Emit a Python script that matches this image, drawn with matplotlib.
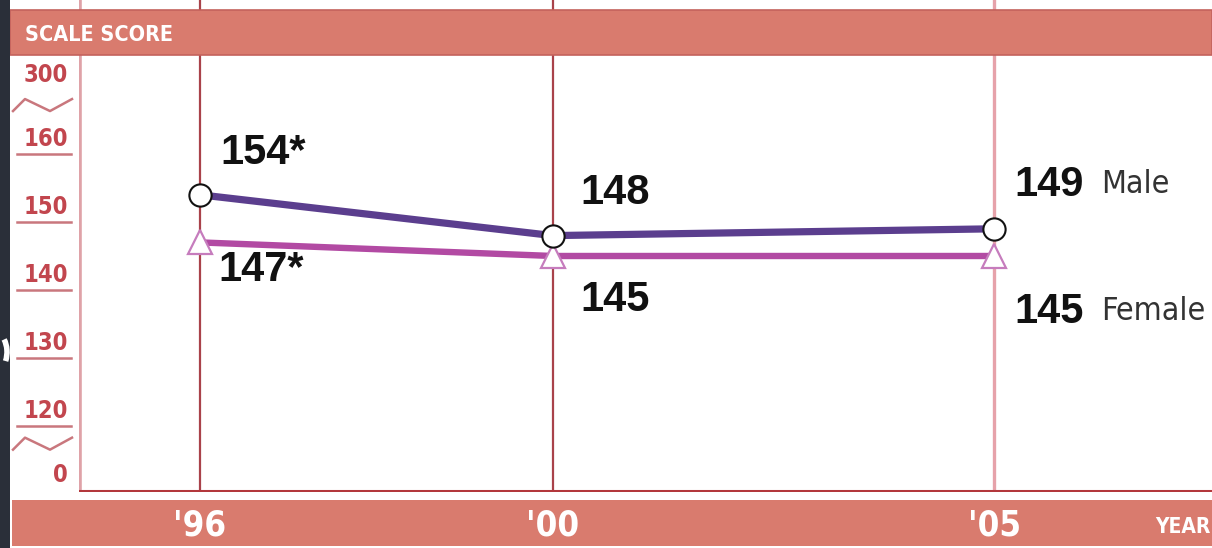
import matplotlib
matplotlib.use("Agg")
import matplotlib.pyplot as plt
import matplotlib.transforms as mtransforms
from matplotlib.patches import Rectangle, Arc

# ---- data ----
years = [1996, 2000, 2005]
year_labels = ["'96", "'00", "'05"]
male = [154, 148, 149]
female = [147, 145, 145]
male_labels = ["154*", "148", "149"]
female_labels = ["147*", "145", "145"]
ytick_values = [160, 150, 140, 130, 120]

W, H, DPI = 1212, 548, 100
SALMON = "#d97b6e"
SALMON_EDGE = "#c4625c"
TICK_RED = "#c2464e"
MALE_C = "#5b3e8e"
FEMALE_C = "#b24aa3"
COND = dict(family="DejaVu Sans", fontstretch="condensed")

fig = plt.figure(figsize=(W / DPI, H / DPI), dpi=DPI)
fig.patch.set_facecolor("white")

def fx(px):
    return px / W

def fy(py):
    return 1 - py / H

# plot area: x from 79px to right edge, y from top edge to 492px
ax = fig.add_axes([fx(79), fy(492), 1 - fx(79), 492 / H])
ax.set_xlim(1994.63, 2007.47)
ax.set_ylim(110.29, 182.65)
ax.set_facecolor("white")
for s in ax.spines.values():
    s.set_visible(False)
ax.set_xticks([])
ax.set_yticks([])

# year gridlines
grid_colors = ["#a9424a", "#a9424a", "#e6a2aa"]
grid_widths = [1.6, 1.6, 2.4]
for yr, c, w in zip(years, grid_colors, grid_widths):
    ax.axvline(yr, color=c, lw=w, zorder=1)

# left axis line
ax.axvline(1994.63 + 0.01, color="#dfa2a8", lw=2.6, zorder=1)

# bottom axis line
ax.axhline(110.29 + 0.15, color="#b3383c", lw=2.2, zorder=2)

# series lines
ax.plot(years, male, color=MALE_C, lw=5.2, solid_capstyle="butt", zorder=3)
ax.plot(years, female, color=FEMALE_C, lw=4.6, solid_capstyle="butt", zorder=3)
ax.plot(years, female, ls="none", marker="^", ms=17, mfc="white",
        mec="#c67cbd", mew=1.6, zorder=4)
ax.plot(years, male, ls="none", marker="o", ms=16, mfc="white",
        mec="#111111", mew=1.5, zorder=5)

num_font = dict(family=["Liberation Sans", "DejaVu Sans"], weight="bold",
                fontsize=30, color="#111111")
name_font = dict(fontsize=23, color="#333333", **COND)

male_offsets = [(20, 42), (28, 43), (20, 44)]
female_offsets = [(18, -28), (28, -44), (20, -56)]
for x, v, t, off in zip(years, male, male_labels, male_offsets):
    ax.annotate(t, (x, v), xytext=off, textcoords="offset pixels",
                ha="left", va="center", zorder=6, **num_font)
for x, v, t, off in zip(years, female, female_labels, female_offsets):
    ax.annotate(t, (x, v), xytext=off, textcoords="offset pixels",
                ha="left", va="center", zorder=6, **num_font)

ax.annotate("Male", (years[-1], male[-1]), xytext=(107, 44),
            textcoords="offset pixels", ha="left", va="center", **name_font)
ax.annotate("Female", (years[-1], female[-1]), xytext=(107, -56),
            textcoords="offset pixels", ha="left", va="center", **name_font)

# y scale labels in the left column (x in figure fraction, y in data units)
blend = mtransforms.blended_transform_factory(fig.transFigure, ax.transData)
tick_font = dict(weight="bold", fontsize=17, color=TICK_RED, **COND)
for v in ytick_values:
    ax.plot([fx(17), fx(71)], [v, v], color="#c9777d", lw=1.8,
            transform=blend, clip_on=False)
    ax.annotate(str(v), (fx(68), v), xycoords=blend, xytext=(0, 15),
                textcoords="offset pixels", ha="right", va="center",
                annotation_clip=False, **tick_font)

ax.text(fx(68), 171.6, "300", transform=blend, ha="right", va="center",
        clip_on=False, **tick_font)
ax.text(fx(68), 112.8, "0", transform=blend, ha="right", va="center",
        clip_on=False, **tick_font)

# axis break marks
u = 1 / 6.8  # data units per pixel
for yc in (167.2, 117.4):
    xs = [fx(13), fx(25), fx(50), fx(72)]
    ys = [yc - 6 * u, yc + 6 * u, yc - 6 * u, yc + 6 * u]
    ax.plot(xs, ys, color="#c9777d", lw=1.8, transform=blend, clip_on=False)

# header band
fig.patches.append(Rectangle((fx(10), fy(55)), 1 - fx(10), 45 / H,
                             transform=fig.transFigure, facecolor=SALMON,
                             edgecolor=SALMON_EDGE, lw=1.2, zorder=10))
fig.text(fx(25), fy(35), "SCALE SCORE", color="white", fontsize=15.5,
         weight="bold", ha="left", va="center", zorder=11, **COND)

# footer band
fig.patches.append(Rectangle((fx(12), fy(546)), 1 - fx(12), 46 / H,
                             transform=fig.transFigure, facecolor=SALMON,
                             edgecolor="none", zorder=10))
xblend = mtransforms.blended_transform_factory(ax.transData, fig.transFigure)
for yr, lab in zip(years, year_labels):
    fig.text(yr, fy(525), lab, transform=xblend, ha="center", va="center",
             color="white", fontsize=25, weight="bold", zorder=12, **COND)
fig.text(fx(1183), fy(527), "YEAR", color="white", fontsize=15,
         weight="bold", ha="center", va="center", zorder=11, **COND)

# dark backdrop strip at the left edge
fig.patches.append(Rectangle((0, 0), fx(10), 1, transform=fig.transFigure,
                             facecolor="#2a2f39", edgecolor="none", zorder=12))
fig.patches.append(Arc((fx(-6), fy(352)), fx(26), 40 / H,
                       theta1=-60, theta2=70, transform=fig.transFigure,
                       color="white", lw=4, zorder=13))

fig.savefig("out.png", dpi=DPI, facecolor="white")
